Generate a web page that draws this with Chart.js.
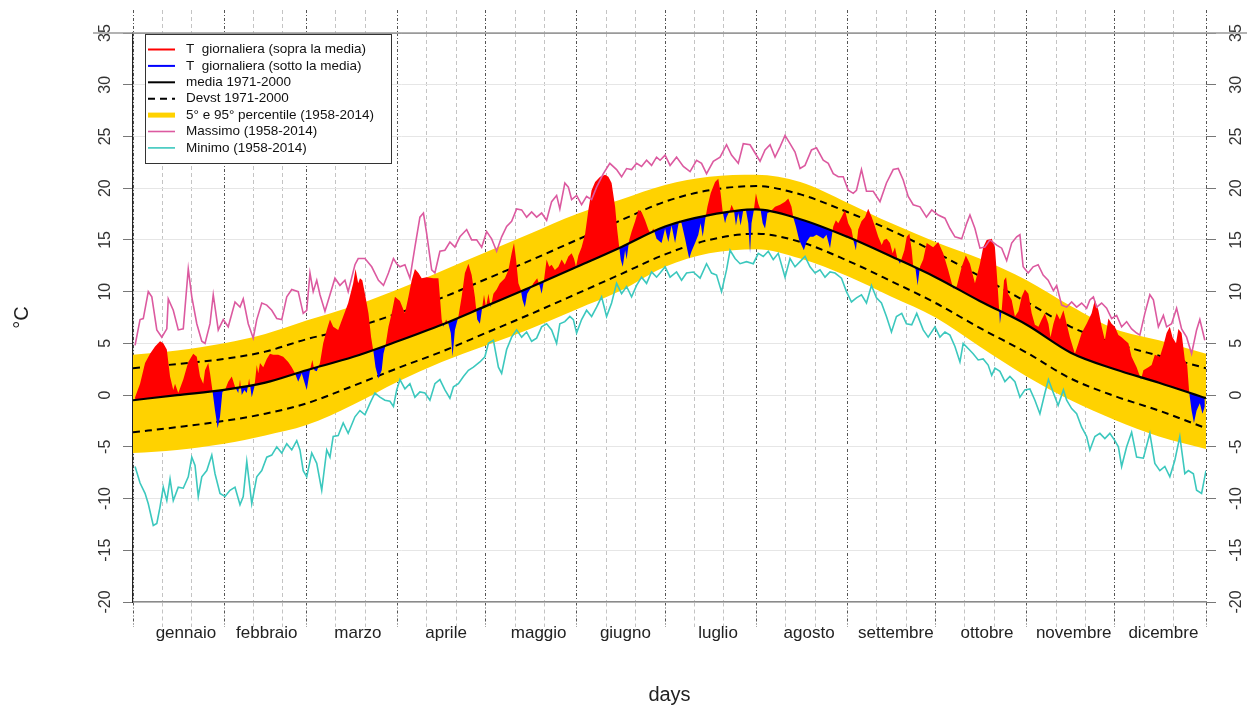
<!DOCTYPE html>
<html>
<head>
<meta charset="utf-8">
<script src="https://cdn.jsdelivr.net/npm/chart.js@4.4.1/dist/chart.umd.min.js"></script>
<style>
  html, body { margin: 0; padding: 0; background: #fff; }
  #wrap { width: 1247px; height: 705px; position: relative; }
</style>
</head>
<body>
<div id="wrap"><canvas id="tempChart"></canvas></div>
<script>
// month axis
const months = ['gennaio', 'febbraio', 'marzo', 'aprile', 'maggio', 'giugno',
                'luglio', 'agosto', 'settembre', 'ottobre', 'novembre', 'dicembre'];
const monthStarts = [0, 31, 59, 90, 120, 151, 181, 212, 243, 273, 304, 334, 365];
const tenDayLines = [10, 20, 41, 51, 69, 79, 100, 110, 130, 140, 161, 171, 191, 201,
                     222, 232, 253, 263, 283, 293, 314, 324, 344, 354];
const monthLabelDays = [18, 45.5, 76.5, 106.5, 138, 167.5, 199, 230, 259.5, 290.5, 320, 350.5];

// climatology (smooth curves)
const smoothDays = [0, 15, 31, 45, 59, 75, 90, 105, 120, 135, 151, 166, 181, 196, 212, 227, 243, 258, 273, 288, 304, 319, 334, 349, 365];
const meanVals  = [-0.5, 0.0, 0.5, 1.2, 2.4, 3.7, 5.2, 6.8, 8.6, 10.4, 12.4, 14.3, 16.3, 17.4, 17.95, 17.0, 15.3, 13.4, 11.4, 9.1, 6.8, 4.1, 2.5, 1.2, -0.3];
const devUpVals = [2.6, 3.0, 3.5, 4.2, 5.4, 6.5, 7.9, 9.4, 11.2, 13.0, 15.0, 16.9, 18.7, 19.8, 20.2, 19.4, 17.7, 15.9, 13.8, 11.5, 9.0, 6.6, 5.0, 3.8, 2.6];
const devLoVals = [-3.6, -3.1, -2.5, -1.8, -0.8, 0.9, 2.6, 4.2, 6.0, 7.8, 9.8, 11.7, 13.6, 15.0, 15.6, 14.8, 13.0, 11.0, 8.9, 6.5, 4.1, 1.6, -0.1, -1.5, -3.2];
const p95Vals   = [3.9, 4.3, 5.0, 5.9, 7.2, 8.6, 10.2, 12.0, 13.8, 15.6, 17.5, 18.9, 20.3, 21.1, 21.3, 20.6, 18.6, 16.6, 14.8, 13.2, 11.1, 8.6, 6.4, 5.3, 4.0];
const p05Vals   = [-5.6, -5.3, -4.7, -3.9, -2.9, -0.9, 1.3, 3.2, 4.8, 6.4, 8.3, 10.1, 12.4, 13.7, 14.1, 13.2, 11.5, 9.5, 7.5, 4.7, 1.8, -0.5, -2.4, -4.0, -5.2];

// daily temperature
const tDays = [
  0.7, 2.4, 4.1, 5.8, 7.5, 9.2, 10.3, 11.5, 12.6, 13.7,
  14.3, 15.4, 17.1, 18.8, 20.5, 21.7, 22.8, 23.9, 24.5, 25.6,
  26.2, 27.0, 27.9, 28.8, 29.6, 30.4, 31.3, 32.4, 33.6, 34.7,
  35.8, 36.4, 37.0, 37.9, 38.7, 39.5, 40.4, 41.3, 42.1, 42.6,
  43.2, 44.3, 45.5, 46.6, 47.7, 49.4, 51.1, 52.8, 54.0, 55.1,
  56.2, 57.4, 59.1, 60.2, 61.0, 61.7, 62.5, 63.6, 64.7, 65.9,
  67.0, 68.1, 69.8, 71.5, 73.2, 74.9, 75.7, 76.6, 77.2, 78.0,
  78.9, 80.1, 81.0, 81.8, 82.5, 83.5, 84.6, 85.2, 85.9, 86.9,
  88.0, 89.1, 90.8, 92.5, 93.7, 94.8, 95.9, 97.1, 98.2, 99.9,
  102.2, 103.9, 104.4, 105.0, 105.6, 106.5, 107.3, 108.1, 108.7, 109.5,
  110.7, 111.8, 112.9, 114.1, 115.2, 116.3, 117.1, 118.0, 118.8, 119.4,
  120.1, 120.9, 121.7, 122.6, 123.7, 124.8, 126.5, 127.7, 128.8, 129.6,
  130.3, 131.1, 131.9, 132.5, 133.3, 134.1, 135.0, 136.2, 137.5, 138.4,
  139.0, 139.8, 140.7, 141.6, 142.4, 143.5, 144.7, 145.8, 146.9, 148.1,
  149.2, 150.0, 150.7, 151.5, 152.6, 153.8, 154.9, 156.0, 157.2, 158.9,
  160.6, 161.7, 162.8, 164.0, 164.7, 165.4, 165.9, 166.6, 167.4, 167.9,
  168.8, 169.6, 170.8, 171.9, 173.0, 174.2, 175.3, 176.1, 177.0, 178.1,
  179.8, 181.0, 182.1, 183.2, 184.4, 185.2, 185.8, 186.6, 187.8, 188.6,
  189.2, 190.0, 191.2, 192.3, 193.1, 193.8, 194.6, 195.4, 196.5, 198.0,
  199.1, 199.9, 200.6, 201.4, 201.9, 203.1, 203.6, 204.4, 205.1, 205.9,
  206.7, 207.6, 208.5, 209.3, 209.9, 210.4, 211.2, 211.9, 212.7, 213.5,
  214.2, 215.0, 215.8, 216.7, 218.4, 220.1, 221.8, 222.9, 224.0, 224.6,
  225.5, 226.6, 227.4, 228.2, 229.1, 230.3, 231.4, 232.5, 233.7, 234.8,
  235.9, 237.1, 238.2, 239.1, 239.9, 241.0, 242.2, 243.3, 244.4, 245.2,
  245.9, 246.7, 247.8, 249.0, 250.1, 251.3, 252.4, 253.5, 254.7, 255.4,
  256.4, 257.5, 258.4, 259.2, 260.0, 260.9, 261.7, 262.4, 263.2, 264.1,
  264.9, 265.4, 266.2, 266.9, 267.7, 268.8, 270.0, 272.2, 273.9, 275.6,
  277.3, 279.0, 280.2, 281.9, 283.3, 284.7, 286.4, 288.1, 289.2, 290.4,
  292.1, 293.2, 294.0, 294.6, 294.9, 295.5, 296.3, 297.0, 297.7, 298.9,
  300.0, 301.2, 302.3, 303.4, 304.6, 305.7, 306.8, 308.0, 309.1, 310.2,
  311.4, 312.1, 313.1, 314.2, 315.3, 316.5, 317.6, 318.7, 320.4, 321.6,
  322.7, 324.4, 326.1, 327.2, 328.4, 329.5, 330.6, 331.8, 332.9, 334.0,
  335.2, 336.3, 337.4, 338.6, 339.7, 341.4, 342.9, 343.7, 345.4, 346.5,
  347.6, 349.3, 350.5, 351.6, 352.7, 353.6, 354.8, 355.6, 356.7, 357.8,
  358.6, 359.3, 360.1, 360.9, 361.8, 362.9, 363.8, 364.6
];
const tVals = [
  -0.2, 1.1, 3.1, 4.0, 4.7, 5.2, 5.0, 4.4, 1.8, 0.5,
  1.1, 0.2, 1.5, 3.2, 4.0, 3.7, 1.8, 1.1, 2.4, 3.1,
  2.1, 0.5, -1.5, -3.2, -2.1, 0.3, 0.5, 1.3, 1.8, 0.8,
  0.2, 1.5, 0.0, 0.5, 0.2, 1.6, -0.2, 0.8, 2.9, 2.1,
  3.1, 2.7, 3.5, 4.0, 3.9, 3.9, 3.7, 3.2, 2.7, 2.1,
  1.3, 2.1, 0.5, 2.4, 3.4, 2.4, 2.3, 3.1, 5.0, 6.3,
  7.3, 6.6, 6.3, 7.6, 8.9, 10.8, 12.2, 10.8, 11.3, 11.1,
  9.8, 7.9, 5.6, 4.2, 2.7, 1.6, 2.4, 4.0, 4.8, 6.6,
  7.9, 9.5, 9.1, 7.9, 9.5, 11.1, 12.2, 11.8, 11.3, 11.4,
  11.3, 11.3, 9.5, 7.3, 6.6, 7.3, 6.9, 6.0, 3.7, 6.3,
  7.6, 9.5, 11.8, 12.7, 11.6, 9.5, 7.3, 6.9, 8.5, 9.7,
  8.5, 9.8, 8.5, 9.8, 10.2, 10.8, 11.3, 12.1, 13.7, 14.7,
  13.1, 10.8, 10.2, 9.2, 8.5, 9.8, 10.2, 10.8, 11.3, 10.5,
  9.8, 11.1, 13.1, 12.4, 12.6, 12.1, 12.4, 13.1, 12.6, 13.4,
  13.7, 13.2, 12.4, 13.5, 14.3, 15.6, 17.9, 19.8, 20.6, 21.1,
  21.3, 21.1, 20.5, 18.2, 16.0, 14.3, 13.1, 12.4, 14.0, 13.1,
  15.0, 15.8, 16.8, 17.9, 17.7, 16.9, 16.0, 15.6, 16.1, 15.1,
  14.7, 16.1, 14.8, 16.4, 14.7, 16.0, 16.9, 16.6, 15.1, 14.0,
  13.2, 13.9, 14.7, 15.5, 16.6, 15.3, 16.9, 18.2, 19.5, 20.6,
  20.9, 19.5, 17.7, 16.6, 17.2, 17.9, 18.4, 17.9, 16.4, 17.6,
  16.4, 17.9, 17.9, 16.6, 13.7, 16.6, 17.9, 19.5, 18.5, 17.9,
  16.6, 16.1, 17.6, 17.7, 18.2, 18.4, 18.7, 19.0, 18.2, 17.2,
  16.3, 15.0, 14.5, 14.0, 14.8, 15.3, 15.3, 15.5, 15.3, 15.1,
  15.5, 14.2, 16.3, 16.9, 16.6, 17.2, 17.9, 16.6, 16.0, 14.8,
  14.0, 16.0, 16.8, 17.2, 18.0, 17.2, 16.3, 15.3, 14.5, 15.0,
  15.1, 14.7, 13.7, 14.3, 13.2, 12.7, 13.4, 14.0, 15.3, 15.6,
  14.0, 12.4, 12.2, 10.6, 12.4, 13.1, 14.7, 14.3, 14.8, 13.7,
  12.1, 10.3, 10.5, 12.4, 13.5, 12.7, 10.8, 12.7, 14.3, 15.0,
  15.1, 14.3, 11.1, 8.4, 6.9, 8.2, 11.1, 11.4, 9.8, 9.2,
  7.6, 8.1, 9.5, 10.2, 9.8, 7.9, 6.8, 6.6, 7.3, 7.9,
  6.9, 5.6, 6.9, 7.9, 7.3, 8.2, 6.9, 5.6, 4.0, 5.0,
  6.0, 6.9, 7.9, 9.2, 8.2, 6.6, 5.3, 7.4, 6.9, 6.6,
  5.8, 5.6, 5.3, 5.0, 3.7, 2.7, 1.5, 2.4, 2.7, 2.9,
  3.9, 3.7, 4.8, 6.0, 6.6, 5.6, 5.0, 6.4, 6.0, 3.4,
  2.9, 0.2, -1.5, -2.7, -1.5, -0.8, -1.8, -1.1
];

// record maximum 1958-2014
const maxDays = [
  0.7, 2.4, 3.5, 5.2, 6.4, 8.1, 9.8, 11.5, 12.0, 13.7,
  15.4, 17.1, 18.8, 20.0, 21.7, 23.4, 24.5, 26.2, 27.3, 29.0,
  30.7, 32.4, 34.7, 36.4, 37.5, 39.2, 40.9, 42.1, 43.8, 45.5,
  47.2, 48.9, 50.6, 52.3, 54.0, 56.2, 57.9, 59.1, 60.2, 61.3,
  62.5, 63.6, 65.3, 67.0, 68.7, 70.4, 72.1, 73.2, 75.5, 76.6,
  78.9, 81.2, 83.5, 85.2, 86.9, 88.6, 89.7, 90.8, 92.5, 94.2,
  95.9, 97.6, 98.8, 99.9, 101.6, 102.7, 104.4, 106.1, 107.8, 109.5,
  111.2, 113.5, 115.2, 116.9, 118.6, 120.3, 122.0, 123.7, 125.4, 127.1,
  128.8, 130.5, 132.2, 133.9, 135.6, 137.3, 139.0, 140.7, 142.4, 144.1,
  145.2, 146.9, 148.1, 149.2, 150.9, 152.6, 154.3, 156.0, 157.7, 160.0,
  162.2, 164.5, 166.2, 167.9, 169.6, 171.3, 173.0, 174.7, 176.4, 178.1,
  179.3, 181.0, 182.7, 184.9, 187.2, 189.5, 191.7, 193.4, 195.1, 197.4,
  199.7, 201.9, 203.6, 205.9, 207.6, 209.9, 211.6, 213.3, 215.0, 216.7,
  218.4, 220.1, 221.8, 223.5, 225.2, 226.9, 228.6, 230.8, 232.5, 234.8,
  236.5, 238.2, 239.9, 241.6, 243.3, 245.0, 246.1, 247.8, 249.5, 251.8,
  254.1, 256.3, 258.6, 260.3, 262.0, 263.7, 265.4, 267.7, 269.9, 271.7,
  273.9, 276.2, 277.9, 279.6, 281.9, 283.6, 284.7, 286.4, 288.1, 289.8,
  291.5, 293.8, 295.5, 297.2, 298.9, 300.6, 301.7, 302.8, 304.5, 306.2,
  307.9, 309.6, 311.3, 313.1, 314.2, 315.9, 317.6, 319.3, 321.0, 322.7,
  324.4, 325.5, 326.7, 327.8, 329.5, 331.2, 332.9, 334.6, 336.3, 338.0,
  339.7, 341.4, 342.5, 344.2, 345.9, 347.1, 348.8, 350.5, 351.6, 353.3,
  355.0, 356.7, 358.4, 360.1, 361.8, 362.9, 364.6
];
const maxVals = [
  4.8, 7.3, 7.4, 10.0, 9.5, 6.3, 5.6, 6.4, 9.3, 8.2,
  6.3, 6.4, 12.2, 9.5, 6.9, 5.2, 5.0, 6.9, 9.7, 6.3,
  7.3, 6.6, 9.0, 8.5, 9.3, 6.9, 5.5, 7.3, 8.9, 8.7,
  8.2, 7.4, 7.3, 9.5, 10.2, 10.0, 7.9, 8.2, 11.8, 10.0,
  11.1, 9.7, 8.1, 9.7, 11.3, 10.6, 11.1, 10.0, 12.6, 13.2,
  13.2, 12.4, 11.1, 10.6, 11.8, 13.2, 12.7, 12.4, 12.6, 11.3,
  14.3, 17.2, 17.6, 15.6, 12.1, 11.8, 13.9, 14.0, 14.8, 14.3,
  15.3, 16.0, 15.0, 15.0, 14.3, 15.8, 15.1, 13.9, 15.3, 16.3,
  16.8, 18.0, 17.9, 17.2, 17.7, 17.2, 17.6, 16.9, 18.7, 19.3,
  18.0, 20.5, 20.1, 18.9, 19.3, 18.4, 19.2, 18.9, 20.1, 21.4,
  22.4, 21.8, 21.1, 21.9, 21.8, 22.4, 22.1, 22.7, 22.2, 23.0,
  22.7, 23.2, 22.2, 23.0, 22.1, 21.6, 22.7, 22.4, 21.4, 22.6,
  23.0, 24.2, 23.2, 22.4, 24.3, 24.2, 23.4, 22.6, 23.7, 24.2,
  23.0, 24.0, 25.1, 24.3, 23.5, 21.9, 22.2, 23.7, 23.9, 22.7,
  22.4, 21.4, 21.1, 21.1, 19.8, 19.5, 19.8, 21.8, 19.7, 19.7,
  18.7, 20.5, 21.8, 21.9, 20.8, 19.2, 18.4, 18.2, 17.2, 17.9,
  17.4, 17.1, 16.1, 15.3, 15.1, 16.6, 17.4, 16.1, 14.2, 14.3,
  15.0, 14.5, 14.2, 13.0, 14.7, 15.3, 15.5, 12.4, 11.8, 12.4,
  12.6, 11.6, 11.1, 10.1, 10.6, 8.7, 8.5, 9.0, 8.5, 8.9,
  8.4, 9.2, 9.5, 8.5, 8.9, 8.4, 7.4, 7.7, 6.6, 7.1,
  6.4, 6.0, 5.8, 7.9, 9.7, 9.2, 6.6, 7.7, 6.6, 6.9,
  8.4, 6.4, 5.6, 4.0, 6.3, 7.3, 5.3
];

// record minimum 1958-2014
const minDays = [
  0.7, 2.4, 4.1, 5.2, 6.9, 8.1, 9.2, 10.3, 11.5, 12.6,
  13.7, 15.4, 17.1, 18.8, 20.0, 21.1, 22.2, 23.4, 25.1, 26.8,
  27.9, 29.6, 31.3, 33.0, 34.7, 36.4, 37.5, 38.7, 40.4, 42.1,
  43.8, 45.5, 47.2, 48.9, 50.6, 52.3, 54.0, 55.7, 56.8, 57.9,
  59.1, 60.8, 62.5, 64.2, 65.9, 67.0, 68.1, 69.8, 71.5, 73.2,
  75.5, 77.2, 78.9, 80.6, 82.3, 84.0, 85.7, 87.4, 88.6, 89.7,
  90.8, 92.5, 94.2, 95.9, 97.6, 99.3, 101.0, 102.7, 104.4, 106.1,
  107.8, 109.0, 110.7, 112.4, 114.1, 115.8, 118.0, 119.7, 120.9, 122.6,
  124.3, 125.4, 127.1, 128.8, 130.5, 132.2, 133.9, 135.6, 137.3, 139.0,
  140.7, 142.4, 144.1, 145.2, 146.9, 148.6, 149.8, 150.9, 152.6, 154.3,
  156.0, 157.7, 159.4, 161.1, 162.8, 164.5, 166.2, 167.9, 169.6, 171.3,
  173.0, 174.7, 176.4, 178.1, 179.3, 181.0, 182.7, 184.9, 186.6, 188.3,
  190.6, 192.9, 195.1, 196.8, 198.5, 200.2, 201.9, 203.1, 204.8, 206.5,
  208.7, 211.0, 212.7, 214.4, 216.1, 217.8, 219.5, 221.8, 223.5, 225.2,
  226.9, 228.6, 230.3, 232.0, 233.7, 235.4, 237.1, 238.8, 241.0, 242.7,
  244.4, 246.1, 247.8, 249.5, 251.2, 252.9, 254.6, 256.3, 258.0, 259.7,
  261.5, 263.1, 264.9, 266.6, 268.8, 270.5, 272.8, 274.5, 276.2, 277.9,
  279.6, 281.3, 282.4, 284.1, 285.8, 287.5, 289.2, 290.9, 292.1, 293.2,
  294.9, 296.6, 298.3, 300.0, 301.7, 303.4, 305.1, 306.8, 308.5, 310.2,
  311.4, 313.1, 314.7, 316.5, 317.6, 319.3, 321.0, 322.7, 324.4, 325.5,
  327.2, 328.9, 330.6, 332.3, 334.0, 335.2, 336.3, 338.0, 339.7, 341.4,
  343.7, 345.9, 347.6, 349.3, 351.0, 352.7, 354.4, 356.1, 357.8, 359.0,
  360.7, 361.8, 363.5, 365.0
];
const minVals = [
  -6.9, -8.5, -9.5, -10.5, -12.6, -12.4, -10.8, -8.9, -10.2, -8.1,
  -10.2, -8.9, -9.0, -7.9, -6.0, -6.8, -9.8, -7.9, -7.3, -5.8,
  -7.6, -9.5, -9.8, -9.2, -8.9, -10.6, -9.8, -6.4, -10.5, -7.9,
  -7.3, -6.0, -5.8, -5.0, -5.6, -4.7, -5.3, -4.4, -5.3, -7.3,
  -7.9, -5.6, -6.6, -9.2, -5.3, -6.0, -4.0, -3.9, -2.7, -3.7,
  -2.1, -1.5, -1.9, -0.8, 0.2, -0.2, -0.5, -0.6, -1.1, 0.5,
  1.5, 0.6, 1.1, -0.2, 0.3, 0.2, -0.5, 1.1, 1.5, 0.5,
  -0.3, 0.8, 1.1, 1.8, 2.4, 2.7, 3.2, 3.7, 5.0, 5.3,
  2.7, 2.1, 4.4, 5.6, 6.3, 5.6, 6.1, 5.2, 5.5, 6.6,
  6.9, 6.3, 5.0, 6.9, 7.1, 7.6, 7.3, 6.0, 7.3, 8.2,
  7.6, 8.5, 9.5, 7.6, 8.9, 10.8, 9.8, 10.5, 9.5, 10.6,
  11.4, 10.8, 11.9, 11.4, 11.8, 12.4, 11.4, 11.9, 11.1, 11.8,
  11.9, 11.3, 12.7, 11.8, 11.6, 10.0, 12.1, 14.0, 13.2, 12.7,
  12.9, 12.7, 13.7, 13.4, 13.9, 13.1, 13.7, 11.4, 13.2, 12.4,
  12.9, 13.4, 12.4, 11.8, 12.1, 11.4, 11.9, 11.8, 11.3, 10.0,
  9.0, 9.4, 9.7, 8.9, 10.6, 9.4, 8.9, 7.6, 6.1, 7.6,
  7.9, 6.9, 6.8, 7.9, 6.3, 5.6, 6.6, 5.6, 6.1, 5.8,
  4.7, 3.2, 5.0, 4.5, 4.0, 3.4, 3.5, 2.9, 1.9, 2.6,
  2.3, 1.3, 1.8, 1.3, -0.2, 0.5, 0.6, -0.5, -1.8, 0.2,
  1.5, 0.2, -1.0, 0.5, -0.5, -1.3, -1.8, -3.1, -4.0, -5.3,
  -4.0, -3.7, -4.2, -3.7, -4.4, -5.0, -6.9, -5.0, -3.6, -6.0,
  -6.1, -3.7, -6.6, -7.3, -6.9, -7.9, -6.3, -4.0, -7.6, -7.3,
  -7.6, -9.2, -9.5, -7.3
];

const RED = '#ff0000';
const BLUE = '#0000ff';
const YELLOW = '#ffd200';
const PINK = '#dc5aa0';
const CYAN = '#3cc8be';

Chart.defaults.font.family = "'Liberation Sans', Arial, sans-serif";
Chart.defaults.color = '#333';

const pts = (days, vals) => days.map((d, i) => ({ x: d, y: vals[i] }));

const gridColor = c => {
  if (!c.tick) return 'rgba(0,0,0,0)';
  if (monthStarts.includes(c.tick.value)) return '#555';
  if (tenDayLines.includes(c.tick.value)) return '#c4c4c4';
  return 'rgba(0,0,0,0)';
};
const gridDash = c => {
  if (c.tick && monthStarts.includes(c.tick.value)) return [3, 2, 1, 2];
  return [4, 3];
};

const legendItems = [
  { text: 'T  giornaliera (sopra la media)', color: RED, width: 2, dash: [] },
  { text: 'T  giornaliera (sotto la media)', color: BLUE, width: 2, dash: [] },
  { text: 'media 1971-2000', color: '#000', width: 2, dash: [] },
  { text: 'Devst 1971-2000', color: '#000', width: 2, dash: [7, 5] },
  { text: '5° e 95° percentile (1958-2014)', color: YELLOW, width: 5, dash: [] },
  { text: 'Massimo (1958-2014)', color: PINK, width: 1.6, dash: [] },
  { text: 'Minimo (1958-2014)', color: CYAN, width: 1.6, dash: [] }
];

// legend box drawn inside the plot, plus the long rule at the top
const boxLegend = {
  id: 'boxLegend',
  afterDraw(chart) {
    const { ctx, chartArea, scales } = chart;
    const yTop = scales.y.getPixelForValue(35);
    ctx.save();
    ctx.strokeStyle = '#9a9a9a';
    ctx.lineWidth = 1.5;
    ctx.beginPath();
    ctx.moveTo(93, yTop);
    ctx.lineTo(chart.width, yTop);
    ctx.stroke();

    const left = chartArea.left + 12, top = chartArea.top + 1;
    ctx.fillStyle = '#fff';
    ctx.fillRect(left, top, 246, 129);
    ctx.strokeStyle = '#333';
    ctx.lineWidth = 1;
    ctx.strokeRect(left + 0.5, top + 0.5, 246, 129);
    ctx.font = "13.5px 'Liberation Sans', Arial, sans-serif";
    ctx.textBaseline = 'middle';
    legendItems.forEach((it, i) => {
      const y = top + 15.5 + i * 16.4;
      ctx.strokeStyle = it.color;
      ctx.lineWidth = it.width;
      ctx.setLineDash(it.dash);
      ctx.beginPath();
      ctx.moveTo(left + 3, y);
      ctx.lineTo(left + 30, y);
      ctx.stroke();
      ctx.setLineDash([]);
      ctx.fillStyle = '#111';
      ctx.fillText(it.text, left + 41, y);
    });
    ctx.restore();
  }
};

const ctx = document.getElementById('tempChart').getContext('2d');
new Chart(ctx, {
  type: 'line',
  data: {
    datasets: [
      { label: 'p95', data: pts(smoothDays, p95Vals), borderColor: 'transparent', borderWidth: 0,
        backgroundColor: YELLOW, fill: 1, cubicInterpolationMode: 'monotone', order: 9 },
      { label: 'p05', data: pts(smoothDays, p05Vals), borderColor: 'transparent', borderWidth: 0,
        fill: false, cubicInterpolationMode: 'monotone', order: 8 },
      { label: 'devUp', data: pts(smoothDays, devUpVals), borderColor: '#000', borderWidth: 2,
        borderDash: [7, 5], fill: false, cubicInterpolationMode: 'monotone', order: 7 },
      { label: 'devLo', data: pts(smoothDays, devLoVals), borderColor: '#000', borderWidth: 2,
        borderDash: [7, 5], fill: false, cubicInterpolationMode: 'monotone', order: 6 },
      { label: 'T', data: pts(tDays, tVals), borderColor: 'transparent', borderWidth: 0,
        fill: { target: 5, above: RED, below: BLUE }, tension: 0, order: 5 },
      { label: 'media', data: pts(smoothDays, meanVals), borderColor: '#000', borderWidth: 2.2,
        fill: false, cubicInterpolationMode: 'monotone', order: 4 },
      { label: 'max', data: pts(maxDays, maxVals), borderColor: PINK, borderWidth: 1.6,
        fill: false, tension: 0, order: 2 },
      { label: 'min', data: pts(minDays, minVals), borderColor: CYAN, borderWidth: 1.6,
        fill: false, tension: 0, order: 1 }
    ]
  },
  options: {
    responsive: true,
    maintainAspectRatio: false,
    animation: false,
    events: [],
    layout: { padding: 0 },
    elements: { point: { radius: 0, hitRadius: 0 } },
    plugins: { legend: { display: false }, tooltip: { enabled: false } },
    scales: {
      x: {
        type: 'linear', position: 'bottom', min: 0, max: 365,
        afterBuildTicks: axis => {
          axis.ticks = [...monthStarts, ...tenDayLines, ...monthLabelDays]
            .sort((a, b) => a - b).map(v => ({ value: v }));
        },
        ticks: {
          autoSkip: false, maxRotation: 0, minRotation: 0, padding: -2,
          color: '#222', font: { size: 17, lineHeight: 1 },
          callback: v => { const i = monthLabelDays.indexOf(v); return i >= 0 ? months[i] : ''; }
        },
        grid: { color: gridColor, tickColor: gridColor, tickLength: 25, lineWidth: 1, tickBorderDash: gridDash },
        border: { color: '#8a8a8a', width: 1.5, dash: gridDash },
        title: { display: true, text: 'days', color: '#222', font: { size: 20, lineHeight: 1 }, padding: { top: 0, bottom: 0 } },
        afterFit: s => { s.height = 103; }
      },
      xt: {
        type: 'linear', position: 'top', min: 0, max: 365,
        afterBuildTicks: axis => {
          axis.ticks = [...monthStarts, ...tenDayLines].sort((a, b) => a - b).map(v => ({ value: v }));
        },
        ticks: { display: false },
        grid: { drawOnChartArea: false, color: gridColor, tickColor: gridColor, tickLength: 23, tickBorderDash: gridDash },
        border: { display: false },
        afterFit: s => { s.height = 33; }
      },
      y: {
        type: 'linear', position: 'left', min: -20, max: 35,
        ticks: { stepSize: 5, minRotation: 90, maxRotation: 90, crossAlign: 'center', padding: 6,
                 color: '#333', font: { size: 16 } },
        grid: { color: c => (c.tick && c.tick.value === 35) ? '#9a9a9a' : '#e6e6e6', tickColor: '#777', tickLength: 10 },
        border: { color: '#222', width: 1.2 },
        title: { display: true, text: '°C', color: '#222', font: { size: 20, lineHeight: 1 }, padding: { top: 12, bottom: 0 } },
        afterFit: s => { s.width = 133; }
      },
      y2: {
        type: 'linear', position: 'right', min: -20, max: 35,
        ticks: { stepSize: 5, minRotation: 90, maxRotation: 90, crossAlign: 'center', padding: 9,
                 color: '#333', font: { size: 16 } },
        grid: { drawOnChartArea: false, tickColor: '#777', tickLength: 10 },
        border: { display: false },
        afterFit: s => { s.width = 41; }
      }
    }
  },
  plugins: [boxLegend]
});
</script>
</body>
</html>
